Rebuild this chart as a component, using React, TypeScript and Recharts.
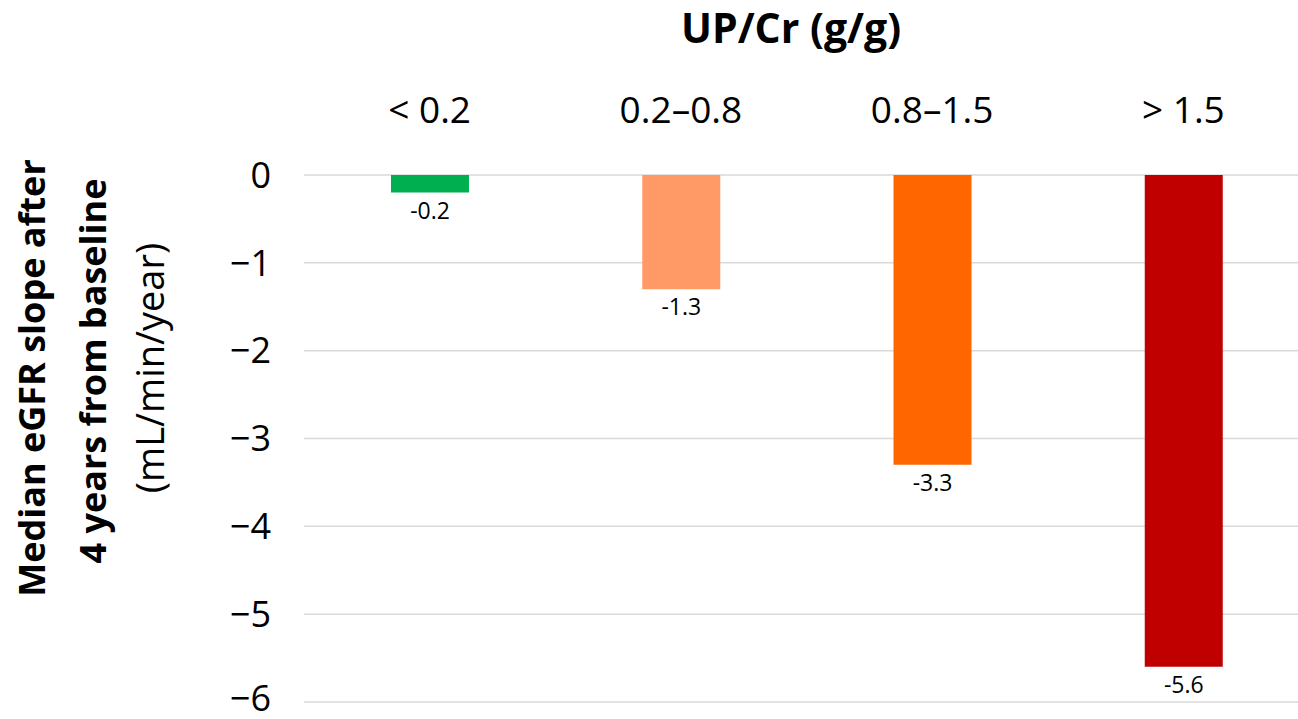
import { BarChart, Bar, XAxis, YAxis, CartesianGrid, Cell, LabelList } from "recharts";

const CATEGORIES = ["< 0.2", "0.2–0.8", "0.8–1.5", "> 1.5"];
const SLOPES = [-0.2, -1.3, -3.3, -5.6];
const BAR_COLORS = ["#00B050", "#FF9966", "#FF6600", "#C00000"];
const Y_TICKS = [0, -1, -2, -3, -4, -5, -6];

const FONT = "'Open Sans', sans-serif";

const chartData = CATEGORIES.map((cat, i) => ({ cat, value: SLOPES[i] }));

const fmtTick = (v: number) => (v < 0 ? "\u2212" + Math.abs(v) : String(v));

// value label sits just under the end of each (negative) bar
const BelowLabel = (props: any) => {
  const { x, y, width, height, value } = props;
  const bottom = Math.max(y, y + height);
  return (
    <text
      x={x + width / 2}
      y={bottom + 26}
      textAnchor="middle"
      fontSize={23}
      fontFamily={FONT}
      fill="#000"
    >
      {value}
    </text>
  );
};

export default function App() {
  return (
    <div
      style={{
        position: "absolute",
        left: 0,
        top: 0,
        width: 1298,
        height: 719,
        overflow: "hidden",
        background: "#fff",
        fontFamily: FONT,
      }}
    >
      <BarChart
        width={1312}
        height={719}
        data={chartData}
        margin={{ top: 115, right: 3, left: 0, bottom: 17 }}
      >
        <CartesianGrid vertical={false} stroke="#D9D9D9" strokeWidth={1.5} />
        <XAxis
          dataKey="cat"
          orientation="top"
          height={60}
          axisLine={false}
          tickLine={false}
          tickSize={0}
          tickMargin={52}
          tick={{ fontSize: 37, fill: "#000", fontFamily: FONT }}
        />
        <YAxis
          domain={[-6, 0]}
          ticks={Y_TICKS}
          width={304}
          axisLine={false}
          tickLine={false}
          tickSize={0}
          tickMargin={33}
          tickFormatter={fmtTick}
          tick={{ fontSize: 36, fill: "#000", fontFamily: FONT }}
        />
        <Bar dataKey="value" barSize={78} isAnimationActive={false}>
          {chartData.map((d, i) => (
            <Cell key={d.cat} fill={BAR_COLORS[i]} />
          ))}
          <LabelList dataKey="value" content={BelowLabel} />
        </Bar>
      </BarChart>
      <svg
        width={1298}
        height={719}
        style={{ position: "absolute", left: 0, top: 0, pointerEvents: "none" }}
      >
        <text
          x={791}
          y={43}
          textAnchor="middle"
          fontSize={41}
          fontWeight="bold"
          fontFamily={FONT}
          fill="#000"
        >
          UP/Cr (g/g)
        </text>
        <g fontFamily={FONT} fill="#000" textAnchor="middle">
          <text transform="translate(45,378) rotate(-90)" fontSize={36} fontWeight="bold">
            Median eGFR slope after
          </text>
          <text transform="translate(106,371) rotate(-90)" fontSize={36} fontWeight="bold">
            4 years from baseline
          </text>
          <text transform="translate(164,368) rotate(-90)" fontSize={38}>
            (mL/min/year)
          </text>
        </g>
      </svg>
    </div>
  );
}
